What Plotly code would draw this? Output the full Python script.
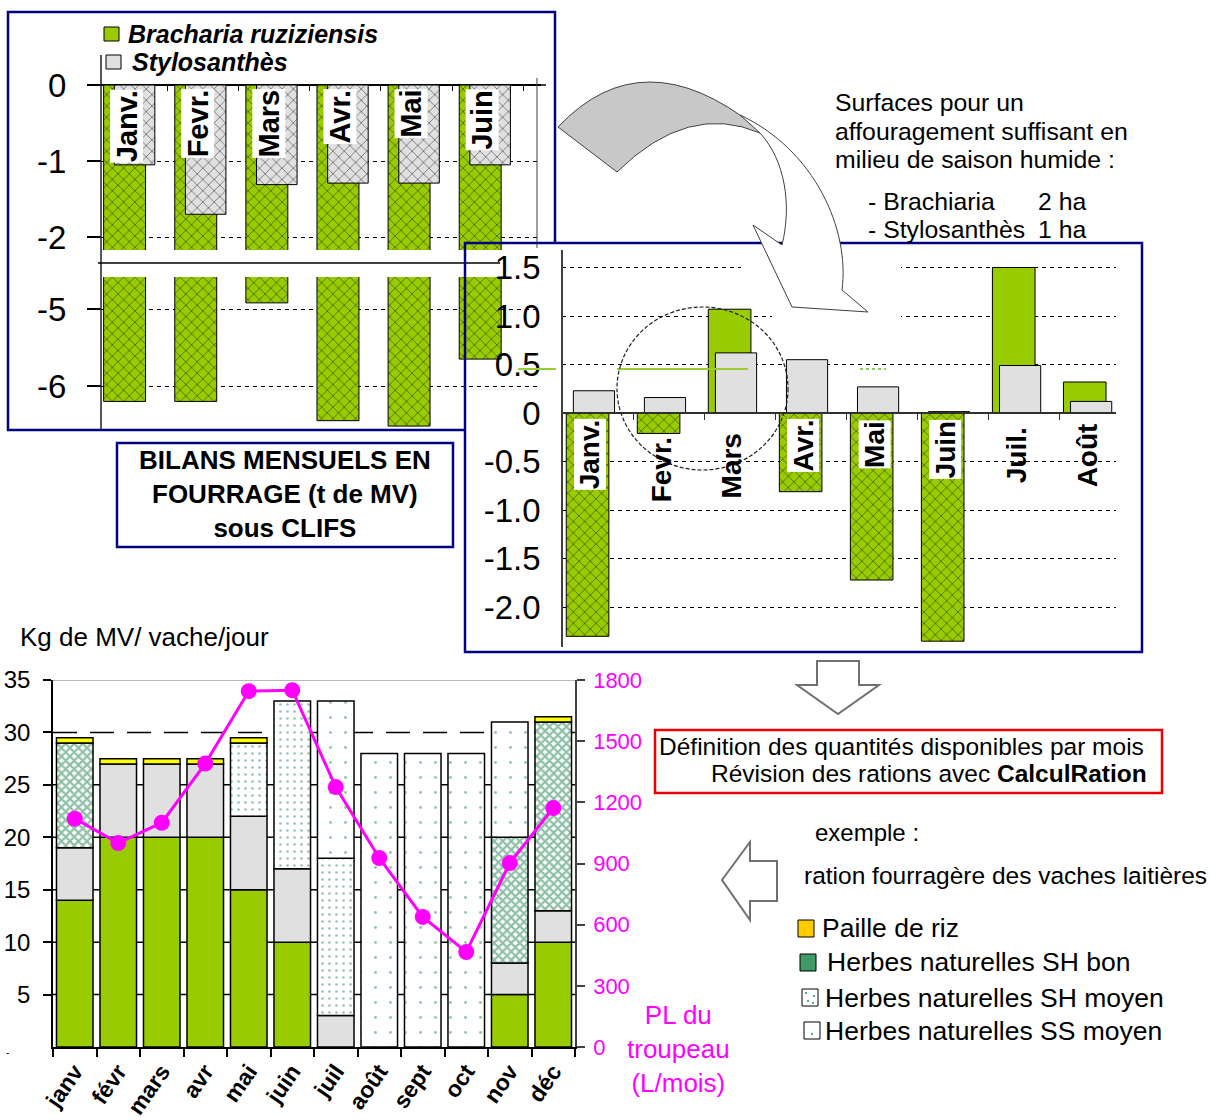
import plotly.graph_objects as go

W, H = 1210, 1120
FONT = "Liberation Sans, Arial, sans-serif"

# ---------------- data ----------------
months_top = ["Janv.", "Fevr.", "Mars", "Avr.", "Mai", "Juin"]
brach_top = [-6.2, -6.2, -4.92, -6.45, -6.52, -5.65]
stylo_top = [-1.05, -1.7, -1.31, -1.29, -1.29, -1.05]

months_right = ["Janv.", "Fevr.", "Mars", "Avr.", "Mai", "Juin", "Juil.", "Août"]
brach_right = [-2.3, -0.21, 1.07, -0.81, -1.72, -2.35, 1.5, 0.32]
stylo_right = [0.23, 0.16, 0.62, 0.55, 0.27, 0.015, 0.49, 0.12]
right_ticks = [-2.0, -1.5, -1.0, -0.5, 0, 0.5, 1.0, 1.5]
right_ticktext = ["-2.0", "-1.5", "-1.0", "-0.5", "0", "0.5", "1.0", "1.5"]

months_bottom = ["janv", "févr", "mars", "avr", "mai", "juin",
                 "juil", "août", "sept", "oct", "nov", "déc"]
brachiaria = [14, 20, 20, 20, 15, 10, 0, 0, 0, 0, 5, 10]
stylosanthes = [5, 7, 7, 7, 7, 7, 3, 0, 0, 0, 3, 3]
sh_bon = [10, 0, 0, 0, 0, 0, 0, 0, 0, 0, 12, 18]
sh_moyen = [0, 0, 0, 0, 7, 16, 15, 0, 0, 0, 0, 0]
ss_moyen = [0, 0, 0, 0, 0, 0, 15, 28, 28, 28, 11, 0]
paille = [0.5, 0.5, 0.5, 0.5, 0.5, 0, 0, 0, 0, 0, 0, 0.5]
pl_troupeau = [1120, 1000, 1100, 1390, 1745, 1750, 1275, 927, 638, 466, 902, 1172]

# ---------------- helpers ----------------
def fx(x):
    return x / W

def fy(y):
    return 1 - y / H

def dom_x(a, b):
    return [fx(a), fx(b)]

def dom_y(top, bottom):
    return [fy(bottom), fy(top)]

def P(x, y):
    return f"{fx(x):.5f},{fy(y):.5f}"

GREEN = "#99CC00"
GRAY = "#E0E0E0"
NAVY = "#000080"
MAGENTA = "#FF00FF"

fig = go.Figure()

hatch = dict(shape="x", fgcolor="black", size=8, solidity=0.2, fillmode="overlay")

# ---------------- top-left broken-axis chart ----------------
for xa, ya in [("x", "y"), ("x2", "y2")]:
    fig.add_trace(go.Bar(x=months_top, y=brach_top, xaxis=xa, yaxis=ya,
                         width=0.59, offset=-0.4,
                         marker=dict(color=GREEN, line=dict(color="black", width=1), pattern=hatch),
                         showlegend=False, hoverinfo="skip"))
    fig.add_trace(go.Bar(x=months_top, y=stylo_top, xaxis=xa, yaxis=ya,
                         width=0.57, offset=-0.25,
                         marker=dict(color=GRAY, line=dict(color="black", width=1), pattern=hatch),
                         showlegend=False, hoverinfo="skip"))

# ---------------- right chart ----------------
def signed_pattern(vals):
    return dict(shape=["x" if v < 0 else "" for v in vals],
                fgcolor="black", size=8, solidity=0.2, fillmode="overlay")

fig.add_trace(go.Bar(x=months_right, y=brach_right, xaxis="x3", yaxis="y3",
                     width=0.6, offset=-0.44,
                     marker=dict(color=GREEN, line=dict(color="black", width=1),
                                 pattern=signed_pattern(brach_right)),
                     showlegend=False, hoverinfo="skip"))
fig.add_trace(go.Bar(x=months_right, y=stylo_right, xaxis="x3", yaxis="y3",
                     width=0.58, offset=-0.34,
                     marker=dict(color=GRAY, line=dict(color="black", width=1),
                                 pattern=signed_pattern(stylo_right)),
                     showlegend=False, hoverinfo="skip"))

# ---------------- bottom stacked chart ----------------
pat_bon = dict(shape="x", fgcolor="#1f8050", size=6, solidity=0.6, fillmode="overlay")
pat_moy = dict(shape=".", fgcolor="#2e8b57", size=7, solidity=0.12, fillmode="overlay")
pat_ss = dict(shape=".", fgcolor="#2e8b57", size=15, solidity=0.03, fillmode="overlay")
stack = [
    ("Brachiaria", brachiaria, GREEN, None),
    ("Stylosanthès", stylosanthes, GRAY, None),
    ("Herbes naturelles SH bon", sh_bon, "white", pat_bon),
    ("Herbes naturelles SH moyen", sh_moyen, "white", pat_moy),
    ("Herbes naturelles SS moyen", ss_moyen, "white", pat_ss),
    ("Paille de riz", paille, "#FFFF00", None),
]
base = [0] * len(months_bottom)
for name, vals, color, pat in stack:
    marker = dict(color=color, line=dict(color="black", width=1.5))
    if pat:
        marker["pattern"] = pat
    fig.add_trace(go.Bar(name=name, x=months_bottom, y=[v if v else None for v in vals],
                         base=list(base), xaxis="x4", yaxis="y4", width=0.84,
                         marker=marker, showlegend=False, hoverinfo="skip"))
    base = [b + v for b, v in zip(base, vals)]

fig.add_trace(go.Scatter(x=months_bottom, y=pl_troupeau, xaxis="x4", yaxis="y5",
                         mode="lines+markers", line=dict(color=MAGENTA, width=3),
                         marker=dict(size=16, color=MAGENTA), showlegend=False, hoverinfo="skip"))

# ---------------- axes ----------------
grid_dash = "4px,4px"
ax_common = dict(showgrid=False, zeroline=False, showline=False, fixedrange=True, automargin=False)

fig.update_layout(
    width=W, height=H, autosize=False,
    margin=dict(l=0, r=0, t=0, b=0, pad=0, autoexpand=False),
    paper_bgcolor="white", plot_bgcolor="rgba(0,0,0,0)",
    barmode="overlay", showlegend=False,
    font=dict(family=FONT, color="black"),
    xaxis=dict(domain=dom_x(101, 541), range=[-0.437, 5.75], anchor="free", position=fy(85),
               ticks="outside", tickson="boundaries", ticklen=5, tickcolor="black",
               showticklabels=False, **ax_common),
    yaxis=dict(domain=dom_y(55, 250), range=[-2.17, 0.395], anchor="free", position=fx(101),
               tickvals=[0, -1, -2], ticktext=["0", "-1", "-2"], ticks="outside", ticklen=14,
               tickwidth=1.5, tickcolor="black", tickfont=dict(size=33), ticklabelstandoff=14,
               showgrid=True, gridcolor="black", griddash=grid_dash, gridwidth=1,
               zeroline=True, zerolinecolor="black", zerolinewidth=1.5, showline=False,
               fixedrange=True, automargin=False),
    xaxis2=dict(domain=dom_x(101, 541), range=[-0.437, 5.75], anchor="y2",
                ticks="", showticklabels=False, **ax_common),
    yaxis2=dict(domain=dom_y(277, 430), range=[-6.571, -4.584], anchor="free", position=fx(101),
                tickvals=[-5, -6], ticktext=["-5", "-6"], ticks="outside", ticklen=14,
                tickwidth=1.5, tickcolor="black", tickfont=dict(size=33), ticklabelstandoff=14,
                showgrid=True, gridcolor="black", griddash=grid_dash, gridwidth=1,
                zeroline=False, showline=False, fixedrange=True, automargin=False),
    xaxis3=dict(domain=dom_x(562, 1116), range=[-0.5, 7.3], anchor="free", position=fy(413),
                showline=True, linecolor="#303030", linewidth=1.5,
                ticks="outside", tickson="boundaries", ticklen=6, tickcolor="#303030",
                showticklabels=False, showgrid=False, zeroline=False, fixedrange=True,
                automargin=False),
    yaxis3=dict(domain=dom_y(250, 647), range=[-2.41, 1.68], anchor="free", position=fx(562),
                tickvals=right_ticks, ticktext=right_ticktext, ticks="",
                tickfont=dict(size=33), ticklabelstandoff=14,
                showline=True, linecolor="#404040", linewidth=1.5,
                showgrid=True, gridcolor="black", griddash=grid_dash, gridwidth=1,
                zeroline=False, fixedrange=True, automargin=False),
    xaxis4=dict(domain=dom_x(53, 575), range=[-0.5, 11.5], anchor="y4",
                showline=True, linecolor="black", linewidth=1.5,
                ticks="outside", tickson="boundaries", ticklen=8, tickcolor="black", tickwidth=1.5,
                tickangle=-55, tickfont=dict(size=23, weight="bold"),
                showgrid=False, zeroline=False, fixedrange=True, automargin=False),
    yaxis4=dict(domain=dom_y(680, 1047), range=[0, 35], anchor="x4",
                tickvals=[5, 10, 15, 20, 25, 30, 35], ticks="outside", ticklen=8,
                tickcolor="black", tickwidth=1.5, tickfont=dict(size=24), ticklabelstandoff=8,
                showline=True, linecolor="black", linewidth=1.5,
                showgrid=False, zeroline=False, fixedrange=True, automargin=False),
    yaxis5=dict(overlaying="y4", side="right", range=[0, 1800], anchor="x4",
                tickvals=[0, 300, 600, 900, 1200, 1500, 1800], ticks="outside", ticklen=8,
                tickcolor="#404040", tickwidth=1.5, tickfont=dict(size=22, color=MAGENTA),
                ticklabelstandoff=4, showline=True, linecolor="#404040", linewidth=1.5,
                showgrid=False, zeroline=False, fixedrange=True, automargin=False),
)

# ---------------- shapes ----------------
shapes = []

def pline(x0, y0, x1, y1, color="black", width=1.5, dash=None, layer="above"):
    ln = dict(color=color, width=width)
    if dash:
        ln["dash"] = dash
    shapes.append(dict(type="line", xref="paper", yref="paper", x0=fx(x0), x1=fx(x1),
                       y0=fy(y0), y1=fy(y1), line=ln, layer=layer))

def prect(x0, y0, x1, y1, fill=None, color="black", width=1):
    d = dict(type="rect", xref="paper", yref="paper", x0=fx(x0), x1=fx(x1), y0=fy(y1), y1=fy(y0),
             line=dict(color=color, width=width))
    if fill:
        d["fillcolor"] = fill
    shapes.append(d)

def ppath(d, fill, color, width):
    shapes.append(dict(type="path", xref="paper", yref="paper", path=d,
                       fillcolor=fill, line=dict(color=color, width=width)))

# bottom chart grid lines (behind bars)
for v in [5, 10, 15, 20, 25]:
    shapes.append(dict(type="line", xref="x4 domain", yref="y4", x0=0, x1=1, y0=v, y1=v,
                       line=dict(color="black", width=1.5), layer="below"))
shapes.append(dict(type="line", xref="x4 domain", yref="y4", x0=0, x1=1, y0=30, y1=30,
                   line=dict(color="black", width=1.5, dash="24px,13px"), layer="below"))
shapes.append(dict(type="line", xref="x4 domain", yref="y4", x0=0, x1=1, y0=35, y1=35,
                   line=dict(color="#a0a0a0", width=1.5), layer="below"))

# top-left chart: continuous axis line, break line, right marker
pline(101, 55, 101, 430, color="#202020")
pline(98, 263, 500, 263)
pline(537, 78, 537, 248, color="#404040", width=1)
pline(541, 85, 546, 85)

# legend squares (top-left)
prect(104, 27, 119, 41, fill=GREEN)
prect(106, 55, 121, 69, fill=GRAY)

# white gaps in right chart grid lines
shapes.append(dict(type="rect", xref="paper", yref="paper", x0=fx(741), x1=fx(901), y0=fy(272), y1=fy(256),
                   fillcolor="white", line=dict(width=0)))
shapes.append(dict(type="rect", xref="paper", yref="paper", x0=fx(772), x1=fx(901), y0=fy(320), y1=fy(307),
                   fillcolor="white", line=dict(width=0)))

# stray green line
pline(518, 369, 556, 369, color="#9ACD32", width=2)
pline(617, 369, 748, 369, color="#9ACD32", width=2)
pline(860, 369, 886, 369, color="#66BB33", width=1.5, dash="dot")

# dashed circle
shapes.append(dict(type="circle", xref="paper", yref="paper", x0=fx(617), x1=fx(788), y0=fy(470), y1=fy(307),
                   line=dict(color="#202020", width=1.2, dash="4px,2px")))

# boxes
shapes.append(dict(type="path", xref="paper", yref="paper",
                   path=f"M{P(555,243)} L{P(555,12)} L{P(8,12)} L{P(8,430)} L{P(465,430)}",
                   line=dict(color=NAVY, width=2.5)))
prect(465, 243, 1142, 652, color=NAVY, width=2.5)
prect(117, 443, 453, 547, fill="white", color=NAVY, width=2.5)
prect(655, 730, 1162, 793, color="#EE0000", width=2.5)

# curved arrow: gray back band
ppath(f"M{P(558,127)} Q{P(643,37)} {P(756,127)} L{P(760,133)} Q{P(688,102)} {P(617,172)} Z",
      "#C8C8C8", "#404040", 1)
# curved arrow: white front ribbon with head
ppath(f"M{P(740,115)} C{P(815,150)} {P(850,230)} {P(842,290)} "
      f"L{P(868,312)} L{P(792,307)} L{P(753,225)} L{P(782,245)} "
      f"C{P(792,205)} {P(785,160)} {P(760,133)} Z",
      "white", "#404040", 1)

# hollow down arrow
ppath(f"M{P(817,661)} L{P(859,661)} L{P(859,685)} L{P(879,685)} "
      f"L{P(838,714)} L{P(797,685)} L{P(817,685)} Z", "white", "#707070", 2)
# hollow left arrow
ppath(f"M{P(722,880)} L{P(750,842)} L{P(750,861)} L{P(777,861)} "
      f"L{P(777,901)} L{P(750,901)} L{P(750,920)} Z", "white", "#707070", 2)

# bottom legend icons
prect(798, 920, 814, 937, fill="#FFCC00")
prect(800, 954, 816, 971, fill="#3f9a68")
prect(802, 989, 818, 1006, fill="white")
prect(804, 1022, 820, 1039, fill="white")
for (cx, cy) in [(806, 993), (814, 996), (808, 1001), (813, 1003)]:
    shapes.append(dict(type="circle", xref="paper", yref="paper", x0=fx(cx - 1), x1=fx(cx + 1),
                       y0=fy(cy + 1), y1=fy(cy - 1), fillcolor="#2e8b57", line=dict(width=0)))
shapes.append(dict(type="circle", xref="paper", yref="paper", x0=fx(811), x1=fx(813),
                   y0=fy(1035), y1=fy(1033), fillcolor="#2e8b57", line=dict(width=0)))

fig.update_layout(shapes=shapes)

# ---------------- annotations ----------------
ann = []

def txt(x, y, text, size=21, xanchor="left", yanchor="middle", color="black", weight="normal",
        style="normal", align="left"):
    ann.append(dict(x=fx(x), y=fy(y), xref="paper", yref="paper", text=text, showarrow=False,
                    xanchor=xanchor, yanchor=yanchor, align=align,
                    font=dict(family=FONT, size=size, color=color, weight=weight, style=style)))

# top-left legend
txt(126, 34, "Bracharia ruziziensis", size=25, weight="bold", style="italic")
txt(130, 62, "Stylosanthès", size=25, weight="bold", style="italic")

# top-left month labels
for i, m in enumerate(months_top):
    ann.append(dict(x=i - 0.08, y=-0.05, xref="x", yref="y", text=m, showarrow=False,
                    textangle=-90, xanchor="center", yanchor="top", bgcolor="white", borderpad=0,
                    font=dict(family=FONT, size=29, weight="bold")))

# right chart month labels (label drop below the zero line, in axis units)
label_drop = [0.05, 0.24, 0.2, 0.05, 0.07, 0.07, 0.14, 0.1]
for i, (m, v) in enumerate(zip(months_right, brach_right)):
    ann.append(dict(x=i - 0.1, y=-label_drop[i], xref="x3", yref="y3", text=m, showarrow=False,
                    textangle=-90, xanchor="center", yanchor="top",
                    bgcolor="white" if v < -0.5 else "rgba(0,0,0,0)", borderpad=0,
                    font=dict(family=FONT, size=28, weight="bold")))

# BILANS box text
txt(285, 494, "BILANS MENSUELS EN<br>FOURRAGE (t de MV)<br>sous CLIFS", size=26, xanchor="center",
    weight="bold", align="center")

# top-right description
txt(833, 102, "Surfaces pour un", size=24.8)
txt(833, 131, "affouragement suffisant en", size=24.8)
txt(833, 159, "milieu de saison humide :", size=24.8)
txt(866, 201, "- Brachiaria", size=24.8)
txt(1036, 201, "2 ha", size=24.8)
txt(866, 229, "- Stylosanthès", size=24.8)
txt(1036, 229, "1 ha", size=24.8)

# red box text
txt(657, 746, "Définition des quantités disponibles par mois", size=24.5)
txt(1149, 773, "Révision des rations avec <b>CalculRation</b>", size=24.5, xanchor="right")

txt(813, 832, "exemple :", size=24)
txt(802, 875, "ration fourragère des vaches laitières", size=24.5)

# bottom legend texts
txt(820, 928, "Paille de riz", size=26.5)
txt(825, 962, "Herbes naturelles SH bon", size=26.5)
txt(823, 998, "Herbes naturelles SH moyen", size=26.5)
txt(823, 1031, "Herbes naturelles SS moyen", size=26.5)

# bottom chart titles
txt(18, 637, "Kg de MV/ vache/jour", size=26)
txt(678, 1049, "PL du<br>troupeau<br>(L/mois)", size=26, xanchor="center", color=MAGENTA, align="center")
txt(4, 1052, "-", size=10)

fig.update_layout(annotations=ann)

fig.write_html("out.html", config={"displayModeBar": False},
               post_script="document.body.style.margin='0';document.body.style.overflow='hidden';")
